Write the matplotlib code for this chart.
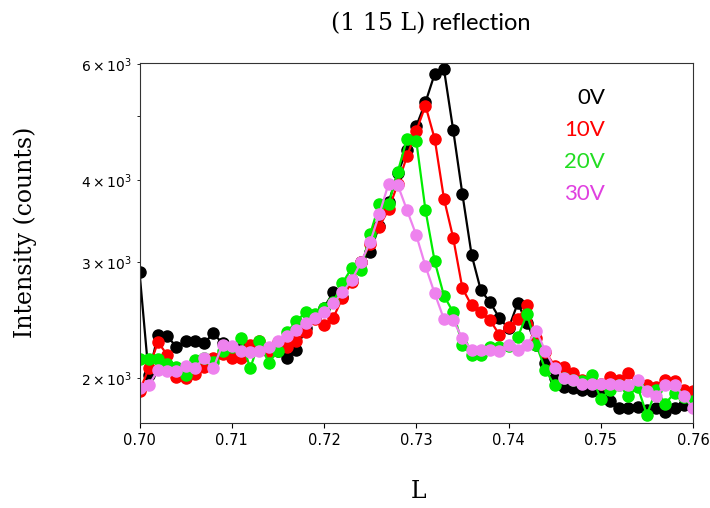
import numpy as np
import matplotlib
matplotlib.use("Agg")
import matplotlib.pyplot as plt

# L values: 0.700 .. 0.760, step 0.001
L = np.round(np.arange(0.700, 0.7605, 0.001), 3)

v0 = [2900, 2020, 2330, 2320, 2230, 2280, 2280, 2260, 2340, 2260,
      2220, 2240, 2230, 2250, 2210, 2200, 2150, 2210, 2380, 2470,
      2560, 2700, 2660, 2820, 3000, 3110, 3410, 3700, 4100, 4450,
      4830, 5250, 5800, 5900, 4770, 3810, 3080, 2720, 2610, 2470,
      2380, 2600, 2430, 2250, 2110, 2000, 1940, 1930, 1920, 1910,
      1900, 1850, 1800, 1800, 1810, 1790, 1800, 1780, 1800, 1820, 1810]

v10 = [1910, 2070, 2270, 2170, 2010, 2000, 2030, 2080, 2150, 2180,
       2150, 2150, 2250, 2280, 2190, 2270, 2230, 2280, 2350, 2460,
       2410, 2470, 2650, 2800, 3000, 3200, 3400, 3610, 3950, 4350,
       4750, 5190, 4620, 3750, 3270, 2740, 2580, 2520, 2450, 2330,
       2390, 2460, 2580, 2300, 2190, 2090, 2080, 2040, 1990, 1970,
       1960, 2010, 1990, 2040, 1950, 1950, 1940, 1990, 1980, 1920, 1910]

v20 = [2140, 2140, 2140, 2100, 2080, 2020, 2130, 2150, 2120, 2200,
       2230, 2300, 2070, 2280, 2110, 2200, 2350, 2440, 2520, 2500,
       2560, 2610, 2790, 2940, 2920, 3310, 3680, 3680, 4120, 4620,
       4590, 3600, 3010, 2670, 2520, 2250, 2170, 2170, 2230, 2230,
       2240, 2310, 2500, 2250, 2060, 1950, 2000, 1990, 1980, 2020,
       1860, 1920, 1950, 1880, 1940, 1760, 1920, 1830, 1900, 1870, 1850]

v30 = [1930, 1950, 2060, 2050, 2050, 2090, 2070, 2150, 2070, 2250,
       2240, 2200, 2190, 2200, 2230, 2280, 2320, 2370, 2430, 2470,
       2520, 2600, 2700, 2820, 3000, 3220, 3550, 3950, 3930, 3600,
       3300, 2960, 2690, 2460, 2450, 2300, 2210, 2210, 2210, 2200,
       2250, 2210, 2250, 2360, 2200, 2070, 2000, 1990, 1960, 1960,
       1960, 1960, 1950, 1950, 1990, 1910, 1880, 1950, 1950, 1880, 1800]

labels = ["0V", "10V", "20V", "30V"]
colors = ["black", "#ff0000", "#00ee00", "#ee82ee"]
text_colors = ["black", "#ff0000", "#22dd22", "#e040e0"]
series = [v0, v10, v20, v30]

fig = plt.figure(figsize=(7.1, 5.08), dpi=100)
ax = fig.add_axes([139.5/710, 1-423/508, 553.5/710, 360/508])

for vals, c in zip(series, colors):
    ax.plot(L, vals, '-o', color=c, lw=1.6, ms=8, mec=c, mfc=c)

ax.set_yscale('log')
ax.set_xlim(0.70, 0.76)
ax.set_ylim(1710, 6025)
ax.set_xticks([0.70, 0.71, 0.72, 0.73, 0.74, 0.75, 0.76])
ax.set_xticklabels(["0.70", "0.71", "0.72", "0.73", "0.74", "0.75", "0.76"])
ax.tick_params(labelsize=10.5)
for s in ax.spines.values():
    s.set_color("#333333")

ys = [0.903, 0.814, 0.725, 0.636]
for lab, tc, y in zip(labels, text_colors, ys):
    ax.text(0.841, y, lab, color=tc, transform=ax.transAxes, ha='right',
            va='center', fontsize=16, family='Lato')

fig.text(425/710, 1-24/508, "(1 15 L)", ha='right', va='center',
         fontsize=17, family='DejaVu Serif')
fig.text(431/710, 1-24/508, "reflection", ha='left', va='center',
         fontsize=17, family='Lato')
fig.text(25/710, 1-232/508, "Intensity (counts)", rotation=90, ha='center',
         va='center', fontsize=17, family='DejaVu Serif')
fig.text(419/710, 1-492/508, "L", ha='center', va='center',
         fontsize=17, family='DejaVu Serif')

fig.savefig("out.png", dpi=100)
